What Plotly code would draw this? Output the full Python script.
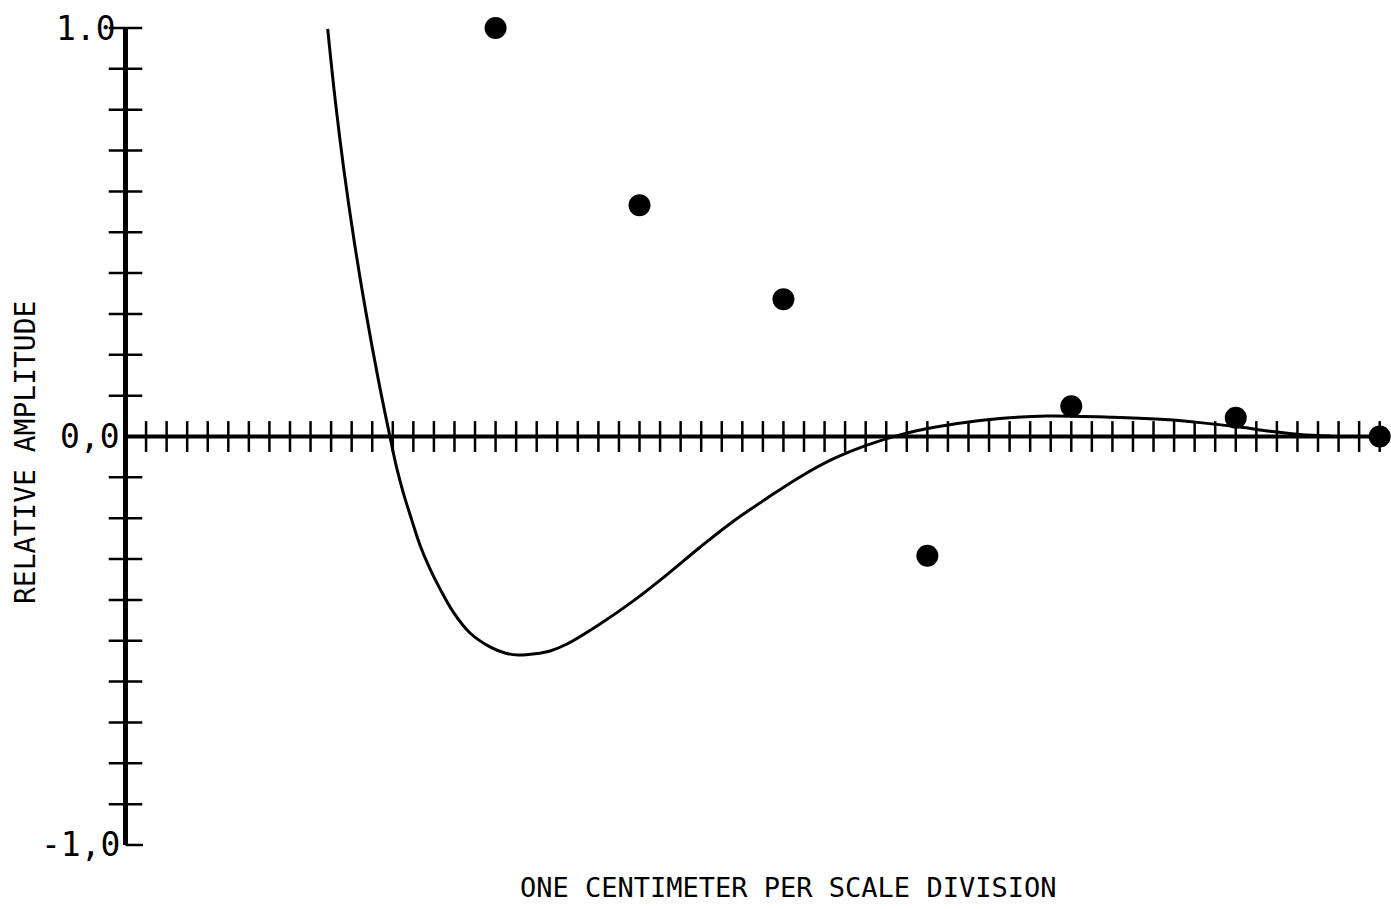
import plotly.graph_objects as go

# Measured amplitudes at the sample positions (cm along the scale)
point_x = [18, 25, 32, 39, 46, 54, 61]
point_y = [1.0, 0.566, 0.336, -0.292, 0.074, 0.046, 0.0]

# Smooth response curve, sampled along the scale
curve_x = [9.834, 10.199, 10.623, 11.114, 11.673, 12.301, 12.865, 13.191, 13.512, 13.920,
           14.324, 14.810, 15.297, 15.943, 16.756, 17.728, 18.458, 19.091, 19.917, 20.647,
           21.474, 23.079, 24.684, 26.338, 27.943, 29.548, 31.201, 32.806, 34.412, 36.065,
           37.670, 39.275, 40.929, 42.534, 44.820, 48.030, 50.316, 52.262, 54.207, 55.667,
           57.126, 58.585]
curve_y = [0.998, 0.824, 0.652, 0.481, 0.310, 0.138, -0.001, -0.077, -0.138, -0.204,
           -0.266, -0.324, -0.373, -0.430, -0.481, -0.515, -0.530, -0.535, -0.532, -0.525,
           -0.508, -0.459, -0.403, -0.338, -0.271, -0.208, -0.151, -0.099, -0.055, -0.021,
           0.004, 0.022, 0.035, 0.044, 0.050, 0.047, 0.042, 0.034, 0.023, 0.013,
           0.005, 0.001]

# Scale divisions on the horizontal axis, amplitude ticks on the vertical axis
x_ticks = list(range(1, 62))
y_ticks = [1.0, 0.9, 0.8, 0.7, 0.6, 0.5, 0.4, 0.3, 0.2, 0.1,
           -0.1, -0.2, -0.3, -0.4, -0.5, -0.6, -0.7, -0.8, -0.9]
y_labels = {1.0: "1.0", 0.0: "0,0", -1.0: "-1,0"}

x_axis_end = 61
y_axis_top, y_axis_bottom = 1.0, -1.0

INK = "#000000"
FONT = "DejaVu Sans Mono"

fig = go.Figure()

# axis lines
fig.add_trace(go.Scatter(x=[0, x_axis_end], y=[0, 0], mode="lines",
                         line=dict(color=INK, width=4), hoverinfo="skip"))
fig.add_trace(go.Scatter(x=[0, 0], y=[y_axis_bottom, y_axis_top], mode="lines",
                         line=dict(color=INK, width=5), hoverinfo="skip"))

# tick marks crossing the axes
fig.add_trace(go.Scatter(x=x_ticks, y=[0] * len(x_ticks), mode="markers",
                         marker=dict(symbol="line-ns", size=22,
                                     line=dict(color=INK, width=2.5)),
                         hoverinfo="skip"))
fig.add_trace(go.Scatter(x=[0] * len(y_ticks), y=y_ticks, mode="markers",
                         marker=dict(symbol="line-ew", size=24,
                                     line=dict(color=INK, width=2.5)),
                         hoverinfo="skip"))
# bottom end tick only extends to the right of the axis
fig.add_trace(go.Scatter(x=[0, 0.85], y=[y_axis_bottom, y_axis_bottom], mode="lines",
                         line=dict(color=INK, width=2.5), hoverinfo="skip"))

# response curve
fig.add_trace(go.Scatter(x=curve_x, y=curve_y, mode="lines",
                         line=dict(color=INK, width=3, shape="spline", smoothing=1.0),
                         hoverinfo="skip"))

# measured points
fig.add_trace(go.Scatter(x=point_x, y=point_y, mode="markers",
                         marker=dict(color=INK, size=22, line=dict(width=0)),
                         cliponaxis=False, hoverinfo="skip"))

annotations = []
for val, txt in y_labels.items():
    annotations.append(dict(x=0, y=val, xref="x", yref="y", text=txt,
                            showarrow=False, xanchor="right", yanchor="middle",
                            xshift=-4 if val != 1.0 else -8,
                            font=dict(family=FONT, size=33, color=INK)))
annotations.append(dict(x=32.2, y=-1.103, xref="x", yref="y",
                        text="ONE CENTIMETER PER SCALE DIVISION", showarrow=False,
                        xanchor="center", yanchor="middle",
                        font=dict(family=FONT, size=27, color=INK)))
annotations.append(dict(x=-4.89, y=-0.038, xref="x", yref="y",
                        text="RELATIVE AMPLITUDE", showarrow=False, textangle=-90,
                        xanchor="center", yanchor="middle",
                        font=dict(family=FONT, size=28, color=INK)))

fig.update_layout(
    width=1391, height=909,
    margin=dict(l=0, r=0, t=0, b=0),
    paper_bgcolor="white", plot_bgcolor="white",
    showlegend=False,
    xaxis=dict(range=[-6.104, 61.55], visible=False, fixedrange=True),
    yaxis=dict(range=[-1.1567, 1.0686], visible=False, fixedrange=True),
    annotations=annotations,
)

fig.write_html("out.html")
